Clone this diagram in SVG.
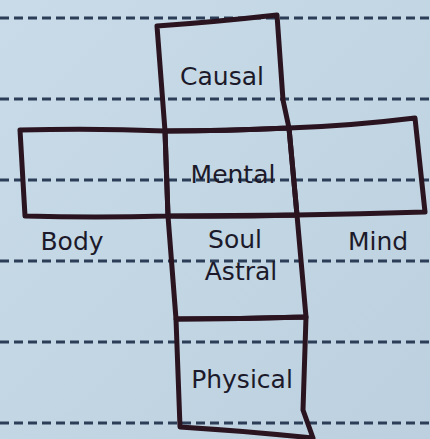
<svg xmlns="http://www.w3.org/2000/svg" width="430" height="439" viewBox="0 0 430 439">
  <defs>
    <linearGradient id="paper" x1="0" y1="0" x2="1" y2="1">
      <stop offset="0" stop-color="#c9dbe8"/>
      <stop offset="0.5" stop-color="#c3d6e4"/>
      <stop offset="1" stop-color="#bcd0df"/>
    </linearGradient>
  </defs>
  <style>
    .rule { stroke: #2b3d57; stroke-width: 3; stroke-dasharray: 9 5; fill: none; }
    .ink { stroke: #2a1420; stroke-width: 5; fill: none; stroke-linejoin: round; stroke-linecap: round; }
    .lbl { font-family: "DejaVu Sans", "Noto Sans", sans-serif; font-size: 25px; fill: #1c1a2a; text-anchor: middle; }
  </style>
  <rect x="0" y="0" width="430" height="439" fill="url(#paper)"/>
  <g id="ruled-lines">
    <line class="rule" x1="0" y1="18" x2="430" y2="18"/>
    <line class="rule" x1="0" y1="99" x2="430" y2="99"/>
    <line class="rule" x1="0" y1="180" x2="430" y2="180"/>
    <line class="rule" x1="0" y1="261" x2="430" y2="261"/>
    <line class="rule" x1="0" y1="342" x2="430" y2="342"/>
    <line class="rule" x1="0" y1="423" x2="430" y2="423"/>
  </g>
  <g id="connectors"></g>
  <g id="causal">
    <path class="ink" d="M165,131 L157,26 Q215,22 277,15 L283,100 L289,128 Q225,131 165,131 Z"/>
    <text class="lbl" x="222" y="85">Causal</text>
  </g>
  <g id="mental">
    <path class="ink" d="M165,131 Q225,131 289,128 L297,215 Q230,217 168,216 Z"/>
    <text class="lbl" x="233" y="183">Mental</text>
  </g>
  <g id="body">
    <path class="ink" d="M20,130 Q95,128 165,131 L168,216 Q95,218 25,216 Z"/>
    <text class="lbl" x="72" y="250">Body</text>
  </g>
  <g id="mind">
    <path class="ink" d="M289,128 Q350,126 415,118 L425,212 Q360,214 297,215 Z"/>
    <text class="lbl" x="378" y="250">Mind</text>
  </g>
  <g id="soul-astral">
    <path class="ink" d="M168,216 L297,215 L306,317 Q240,319 176,319 Z"/>
    <text class="lbl" x="235" y="248">Soul</text>
    <text class="lbl" x="241" y="280">Astral</text>
  </g>
  <g id="physical">
    <path class="ink" d="M176,319 Q240,319 306,317 L303,410 L313,438 Q245,431 180,427 Z"/>
    <text class="lbl" x="242" y="388">Physical</text>
  </g>
</svg>
